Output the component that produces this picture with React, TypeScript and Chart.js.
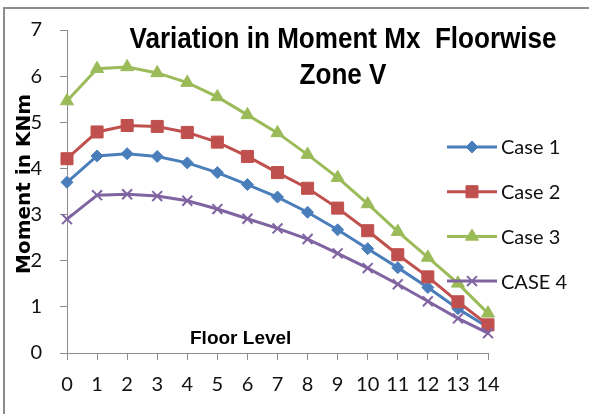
import React, { useEffect, useRef } from "react";
import { Chart, registerables } from "chart.js";
import { drawPoint } from "chart.js/helpers";

Chart.register(...registerables);

const floors = ["0", "1", "2", "3", "4", "5", "6", "7", "8", "9", "10", "11", "12", "13", "14"];
const case1 = [3.70, 4.27, 4.32, 4.26, 4.12, 3.91, 3.65, 3.38, 3.05, 2.67, 2.26, 1.85, 1.42, 0.96, 0.56];
const case2 = [4.21, 4.79, 4.93, 4.91, 4.78, 4.57, 4.26, 3.91, 3.57, 3.14, 2.65, 2.13, 1.65, 1.11, 0.61];
const case3 = [5.46, 6.16, 6.20, 6.07, 5.86, 5.55, 5.16, 4.77, 4.30, 3.80, 3.23, 2.63, 2.07, 1.51, 0.86];
const case4 = [2.90, 3.42, 3.44, 3.40, 3.30, 3.12, 2.91, 2.70, 2.47, 2.16, 1.84, 1.49, 1.12, 0.75, 0.43];
const seriesNames = ["Case 1", "Case 2", "Case 3", "CASE 4"];
const titleLines = ["Variation in Moment Mx  Floorwise", "Zone V"];
const yTitle = "Moment in KNm";
const xTitle = "Floor Level";

const colors = ["#4A7EBB", "#C0504D", "#9BBB59", "#8064A2"];
const styles = ["rectRot", "rect", "triangle", "crossRot"];
const radii = [6, 8.5, 7.5, 7];

function hasFont(ctx: CanvasRenderingContext2D, fam: string) {
  const s = "Variation in Moment Mx";
  ctx.font = "bold 40px monospace";
  const a = ctx.measureText(s).width;
  ctx.font = `bold 40px "${fam}", monospace`;
  const b = ctx.measureText(s).width;
  return Math.abs(a - b) > 0.5;
}

const overlay = {
  id: "overlay",
  beforeDraw(chart: any) {
    const ctx = chart.ctx;
    ctx.save();
    ctx.strokeStyle = "#8c8c8c";
    ctx.lineWidth = 2;
    ctx.beginPath();
    ctx.moveTo(4, 414);
    ctx.lineTo(4, 8);
    ctx.lineTo(589, 8);
    ctx.stroke();
    ctx.restore();
  },
  afterDraw(chart: any) {
    const ctx = chart.ctx;
    ctx.save();
    // title
    const narrow = hasFont(ctx, "Liberation Sans Narrow");
    ctx.fillStyle = "#000";
    ctx.font = narrow
      ? 'bold 30px "Liberation Sans Narrow", sans-serif'
      : 'bold 29px "Liberation Sans", Arial, sans-serif';
    ctx.textAlign = "center";
    ctx.textBaseline = "alphabetic";
    const w = ctx.measureText(titleLines[0]).width;
    const sx = 427 / w;
    ctx.save();
    ctx.translate(343, 0);
    ctx.scale(sx, 1);
    ctx.fillText(titleLines[0], 0, 48);
    ctx.fillText(titleLines[1], 0, 84);
    ctx.restore();

    // y title
    ctx.save();
    ctx.font = 'bold 20px "DejaVu Sans", sans-serif';
    ctx.translate(25, 184);
    ctx.rotate(-Math.PI / 2);
    ctx.textAlign = "center";
    ctx.textBaseline = "middle";
    ctx.fillText(yTitle, 0, 0);
    ctx.restore();

    // x title
    ctx.font = 'bold 19px "Liberation Sans", sans-serif';
    ctx.textAlign = "left";
    ctx.textBaseline = "alphabetic";
    ctx.fillText(xTitle, 190, 344);

    // legend
    const baseY = 147;
    const step = 44.7;
    for (let i = 0; i < 4; i++) {
      const y = baseY + i * step;
      ctx.strokeStyle = colors[i];
      ctx.lineWidth = 3;
      ctx.beginPath();
      ctx.moveTo(447, y);
      ctx.lineTo(497, y);
      ctx.stroke();
      ctx.fillStyle = colors[i];
      ctx.strokeStyle = colors[i];
      ctx.lineWidth = i === 3 ? 2 : 1;
      drawPoint(ctx, { pointStyle: styles[i], radius: radii[i], rotation: 0, borderWidth: i === 3 ? 2 : 1 } as any, 472, y);
      ctx.fillStyle = "#111";
      ctx.font = '20px Lato, sans-serif';
      ctx.textAlign = "left";
      ctx.textBaseline = "middle";
      ctx.fillText(seriesNames[i], 501, y + 1);
    }
    ctx.restore();
  },
};

export default function App() {
  const ref = useRef<HTMLCanvasElement>(null);
  useEffect(() => {
    document.body.style.margin = "0";
    const all = [case1, case2, case3, case4];
    const chart = new Chart(ref.current as HTMLCanvasElement, {
      type: "line",
      data: {
        labels: floors,
        datasets: all.map((d, i) => ({
          label: seriesNames[i],
          data: d,
          borderColor: colors[i],
          backgroundColor: colors[i],
          pointBackgroundColor: colors[i],
          pointBorderColor: colors[i],
          pointStyle: styles[i] as any,
          pointRadius: radii[i],
          pointBorderWidth: i === 3 ? 2 : 1,
          borderWidth: 3,
          tension: 0,
          fill: false,
          clip: false as any,
          order: 3 - i,
        })),
      },
      options: {
        responsive: false,
        animation: false,
        events: [],
        layout: { padding: { left: 5, right: 101, top: 25, bottom: 0 } },
        plugins: { legend: { display: false }, title: { display: false }, tooltip: { enabled: false } },
        scales: {
          x: {
            type: "category",
            offset: false,
            afterFit: (s: any) => { s.height = 61; },
            grid: { display: true, drawOnChartArea: false, drawTicks: true, tickLength: 7, color: "#8c8c8c", offset: false },
            border: { display: true, color: "#8c8c8c", width: 1 },
            ticks: { color: "#111", font: { family: "Lato", size: 20 }, padding: 13, maxRotation: 0, autoSkip: false },
          },
          y: {
            min: 0,
            max: 7,
            afterFit: (s: any) => { s.width = 62; },
            grid: { display: true, drawOnChartArea: false, drawTicks: true, tickLength: 7, color: "#8c8c8c" },
            border: { display: true, color: "#8c8c8c", width: 1 },
            ticks: { stepSize: 1, color: "#111", font: { family: "Lato", size: 20 }, padding: 18 },
          },
        },
      },
      plugins: [overlay],
    });
    return () => chart.destroy();
  }, []);
  return (
    <div style={{ width: 589, height: 414, background: "#fff" }}>
      <canvas ref={ref} width={589} height={414} style={{ display: "block" }} />
    </div>
  );
}
